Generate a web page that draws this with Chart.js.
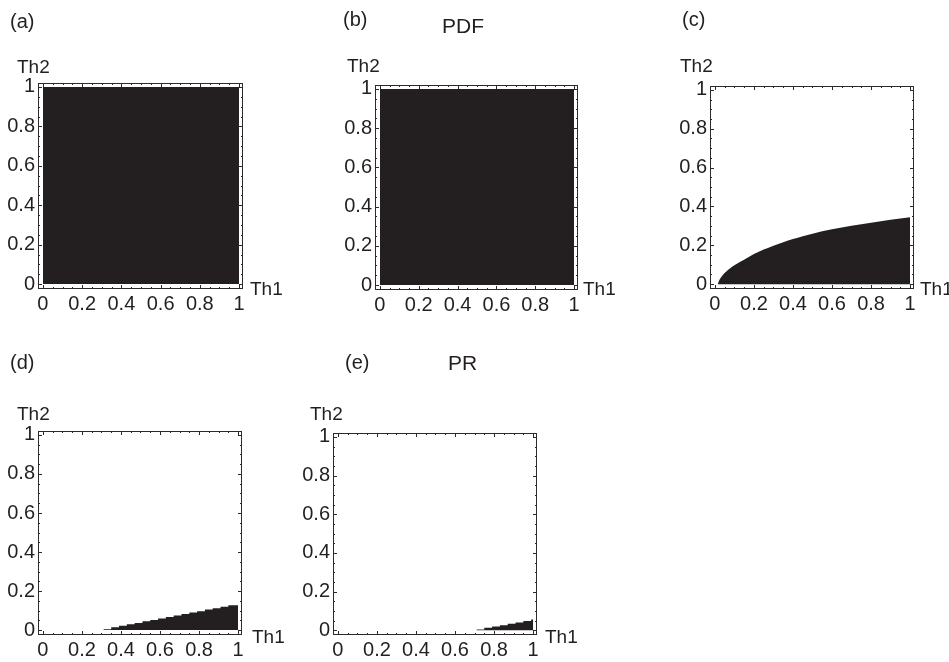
<!DOCTYPE html>
<html>
<head>
<meta charset="utf-8">
<script src="https://cdn.jsdelivr.net/npm/chart.js@4/dist/chart.umd.min.js"></script>
<style>
  html, body { margin: 0; padding: 0; background: #fff; overflow: hidden; }
  body { width: 949px; height: 662px; position: relative; font-family: "Liberation Sans", Arial, sans-serif; color: #231f20; }
  .lbl { position: absolute; white-space: nowrap; }
  canvas { position: absolute; }
</style>
</head>
<body>
<script>
// ---- dados ----
const X_TICKS = [0, 0.2, 0.4, 0.6, 0.8, 1];
const Y_TICKS = [0, 0.2, 0.4, 0.6, 0.8, 1];

// (a) e (b): regiao inteira preenchida
const FULL_X = [0, 1];
const FULL_Y = [1, 1];

// (c): fronteira curva
const C_X = [0.015, 0.02, 0.03, 0.045, 0.06, 0.08, 0.1, 0.13, 0.16, 0.2, 0.25, 0.3, 0.35, 0.4, 0.45, 0.5, 0.6, 0.7, 0.8, 0.9, 1];
const C_Y = [0, 0.015, 0.033, 0.052, 0.067, 0.083, 0.097, 0.115, 0.132, 0.155, 0.178, 0.198, 0.216, 0.232, 0.247, 0.26, 0.282, 0.3, 0.316, 0.331, 0.344];

// (d): escada
const D_X = [0.31, 0.35, 0.39, 0.43, 0.47, 0.51, 0.55, 0.59, 0.63, 0.67, 0.71, 0.75, 0.79, 0.83, 0.87, 0.91, 0.95, 1];
const D_Y = [0.005, 0.015, 0.022, 0.03, 0.037, 0.045, 0.052, 0.06, 0.067, 0.075, 0.082, 0.09, 0.097, 0.105, 0.112, 0.12, 0.127, 0.13];

// (e): escada PR
const E_X = [0.71, 0.75, 0.79, 0.83, 0.87, 0.91, 0.95, 0.99, 1];
const E_Y = [0.004, 0.012, 0.019, 0.026, 0.033, 0.04, 0.047, 0.055, 0.055];

const PANEL_TAGS = ['(a)', '(b)', '(c)', '(d)', '(e)'];
const PANEL_TITLES = ['', 'PDF', '', '', 'PR'];

// ---- layout (caixa do quadro e textos, em px da pagina) ----
const LAYOUT = [
  { frame: [38, 83, 205, 206], tag: [10, 28], title: null, th2: [17, 73], th1: [250, 295] },
  { frame: [375, 85, 203, 205], tag: [343, 26], title: [442, 33], th2: [347, 72], th1: [583, 295] },
  { frame: [710, 86, 204, 203], tag: [682, 26], title: null, th2: [680, 72], th1: [920, 295] },
  { frame: [38, 431, 204, 204], tag: [10, 369], title: null, th2: [17, 420], th1: [252, 643] },
  { frame: [333, 433, 204, 202], tag: [345, 369], title: [448, 370], th2: [310, 420], th1: [545, 643] },
];
const SERIES = [
  { xs: FULL_X, ys: FULL_Y, stepped: false },
  { xs: FULL_X, ys: FULL_Y, stepped: false },
  { xs: C_X, ys: C_Y, stepped: false },
  { xs: D_X, ys: D_Y, stepped: 'before' },
  { xs: E_X, ys: E_Y, stepped: 'before' },
];

const INK = '#231f20';
const AXIS_W = 38, XAXIS_H = 31, PAD_TOP = 83, PAD_RIGHT = 27;

Chart.defaults.font.family = '"Liberation Sans", Arial, sans-serif';
Chart.defaults.font.size = 20;
Chart.defaults.color = INK;

function addText(txt, pos, size) {
  const d = document.createElement('div');
  d.className = 'lbl';
  d.textContent = txt;
  d.style.fontSize = size + 'px';
  d.style.lineHeight = size + 'px';
  d.style.left = pos[0] + 'px';
  d.style.top = (pos[1] - 0.8465 * size) + 'px';
  document.body.appendChild(d);
}

// quadro com pequenos tracos internos (estilo Mathematica)
const framePlugin = {
  id: 'frame',
  afterDraw(chart) {
    const { ctx, chartArea: a, scales: { x, y } } = chart;
    ctx.save();
    ctx.strokeStyle = '#2b2b2b';
    ctx.lineWidth = 1;
    ctx.strokeRect(a.left + 0.5, a.top + 0.5, a.width - 1, a.height - 1);
    ctx.beginPath();
    for (let i = 0; i <= 20; i++) {
      const v = i / 20;
      const len = i % 4 === 0 ? 4 : 2;
      const px = Math.round(x.getPixelForValue(v)) + 0.5;
      const py = Math.round(y.getPixelForValue(v)) + 0.5;
      ctx.moveTo(px, a.bottom); ctx.lineTo(px, a.bottom - len);
      ctx.moveTo(px, a.top); ctx.lineTo(px, a.top + len);
      ctx.moveTo(a.left, py); ctx.lineTo(a.left + len, py);
      ctx.moveTo(a.right, py); ctx.lineTo(a.right - len, py);
    }
    ctx.stroke();
    ctx.restore();
  }
};

LAYOUT.forEach((L, i) => {
  const [fl, ft, fw, fh] = L.frame;
  const cv = document.createElement('canvas');
  cv.width = AXIS_W + fw + PAD_RIGHT;
  cv.height = PAD_TOP + fh + XAXIS_H;
  cv.style.left = (fl - AXIS_W) + 'px';
  cv.style.top = (ft - PAD_TOP) + 'px';
  document.body.appendChild(cv);

  const s = SERIES[i];
  new Chart(cv.getContext('2d'), {
    type: 'line',
    data: {
      datasets: [{
        data: s.xs.map((v, k) => ({ x: v, y: s.ys[k] })),
        fill: 'origin',
        backgroundColor: INK,
        borderColor: INK,
        borderWidth: 0,
        pointRadius: 0,
        stepped: s.stepped,
        cubicInterpolationMode: s.stepped ? 'default' : 'monotone',
      }]
    },
    options: {
      responsive: false,
      animation: false,
      layout: { padding: { top: PAD_TOP, right: PAD_RIGHT, left: 0, bottom: 0 } },
      plugins: { legend: { display: false }, tooltip: { enabled: false } },
      scales: {
        x: {
          type: 'linear', min: -0.025, max: 1.02,
          grid: { display: false, drawTicks: false },
          border: { display: false },
          afterBuildTicks: (sc) => { sc.ticks = X_TICKS.map(v => ({ value: v })); },
          afterFit: (sc) => { sc.height = XAXIS_H; },
          ticks: { padding: 3, maxRotation: 0, autoSkip: false, callback: (v) => String(v) }
        },
        y: {
          type: 'linear', min: -0.025, max: 1.02,
          grid: { display: false, drawTicks: false },
          border: { display: false },
          afterBuildTicks: (sc) => { sc.ticks = Y_TICKS.map(v => ({ value: v })); },
          afterFit: (sc) => { sc.width = AXIS_W; },
          ticks: { padding: 3, autoSkip: false, callback: (v) => String(v) }
        }
      }
    },
    plugins: [framePlugin]
  });

  addText(PANEL_TAGS[i], L.tag, 20);
  if (L.title) addText(PANEL_TITLES[i], L.title, 21);
  addText('Th2', L.th2, 19);
  addText('Th1', L.th1, 19);
});
</script>
</body>
</html>
